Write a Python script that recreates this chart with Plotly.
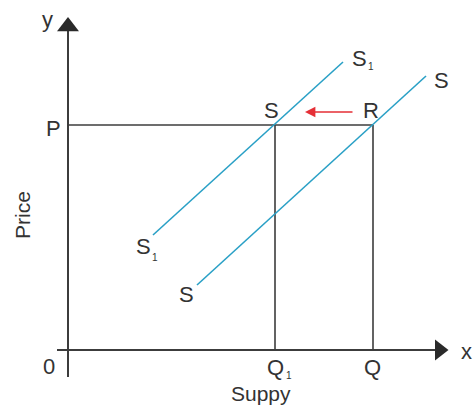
import plotly.graph_objects as go

# ponto de equilibrio e quantidades
P = 4.5
Q1 = 4.14
Q = 6.1

# curvas de oferta (extremos inferior e superior)
s1_x = [1.7, 5.5]
s1_y = [2.3, 5.76]
s_x = [2.58, 7.16]
s_y = [1.3, 5.48]

# eixos
eixo_y_x = [0, 0]
eixo_y_y = [-0.54, 6.4]
eixo_x_x = [-0.22, 7.44]
eixo_x_y = [0, 0]

cinza = '#3c3c3c'
azul = '#29a0c6'
vermelho = '#e52f36'
fonte = 'Liberation Sans, Arial, sans-serif'

fig = go.Figure()

# eixos com setas
fig.add_trace(go.Scatter(x=eixo_y_x, y=eixo_y_y, mode='lines',
                         line=dict(color=cinza, width=2), hoverinfo='skip'))
fig.add_trace(go.Scatter(x=eixo_x_x, y=eixo_x_y, mode='lines',
                         line=dict(color=cinza, width=2), hoverinfo='skip'))
fig.add_trace(go.Scatter(x=[0], y=[6.47], mode='markers',
                         marker=dict(symbol='triangle-up', size=19, color='#2a2a2a'),
                         hoverinfo='skip'))
fig.add_trace(go.Scatter(x=[7.43], y=[0], mode='markers',
                         marker=dict(symbol='triangle-right', size=18, color='#2a2a2a'),
                         hoverinfo='skip'))

# linhas guia
fig.add_trace(go.Scatter(x=[0, Q], y=[P, P], mode='lines',
                         line=dict(color=cinza, width=1.6), hoverinfo='skip'))
fig.add_trace(go.Scatter(x=[Q1, Q1], y=[0, P], mode='lines',
                         line=dict(color=cinza, width=1.6), hoverinfo='skip'))
fig.add_trace(go.Scatter(x=[Q, Q], y=[0, P], mode='lines',
                         line=dict(color=cinza, width=1.6), hoverinfo='skip'))

# curvas de oferta
fig.add_trace(go.Scatter(x=s1_x, y=s1_y, mode='lines',
                         line=dict(color=azul, width=1.6), hoverinfo='skip'))
fig.add_trace(go.Scatter(x=s_x, y=s_y, mode='lines',
                         line=dict(color=azul, width=1.6), hoverinfo='skip'))

# seta vermelha
fig.add_annotation(x=4.74, y=4.76, ax=5.72, ay=4.76, xref='x', yref='y',
                   axref='x', ayref='y', text='', showarrow=True,
                   arrowhead=2, arrowsize=1.3, arrowwidth=1.6,
                   arrowcolor=vermelho)

def rotulo(texto, x, y, size=22, angle=0):
    fig.add_annotation(text=texto, x=x, y=y, xref='x', yref='y',
                       showarrow=False, textangle=angle,
                       font=dict(family=fonte, size=size, color='#333333'))

rotulo('y', -0.42, 6.62)
rotulo('x', 7.96, -0.02)
rotulo('P', -0.29, P - 0.06)
rotulo('0', -0.38, -0.32)
rotulo('Q', Q1, -0.34)
rotulo('1', Q1 + 0.27, -0.5, size=10)
rotulo('Q', Q - 0.02, -0.34)
rotulo('Price', -0.92, 2.7, size=21, angle=-90)
rotulo('Suppy', 3.86, -0.86, size=21)

rotulo('S', s1_x[1] + 0.32, s1_y[1] + 0.08)
rotulo('1', s1_x[1] + 0.56, s1_y[1] - 0.08, size=10)
rotulo('S', s_x[1] + 0.3, s_y[1] - 0.08)
rotulo('S', Q1 - 0.08, P + 0.3)
rotulo('R', Q - 0.04, P + 0.3)
rotulo('S', s1_x[0] - 0.2, s1_y[0] - 0.22)
rotulo('1', s1_x[0] + 0.04, s1_y[0] - 0.44, size=10)
rotulo('S', s_x[0] - 0.22, s_y[0] - 0.18)

fig.update_xaxes(visible=False, range=[-1.36, 8.1])
fig.update_yaxes(visible=False, range=[-1.12, 7.0])
fig.update_layout(
    width=473,
    height=406,
    paper_bgcolor='white',
    plot_bgcolor='white',
    margin=dict(l=0, r=0, t=0, b=0),
    showlegend=False
)

# tira a margem padrao do body da pagina
fig.write_html("out.html", config={'displayModeBar': False},
               post_script="document.body.style.margin='0';document.body.style.overflow='hidden';")
